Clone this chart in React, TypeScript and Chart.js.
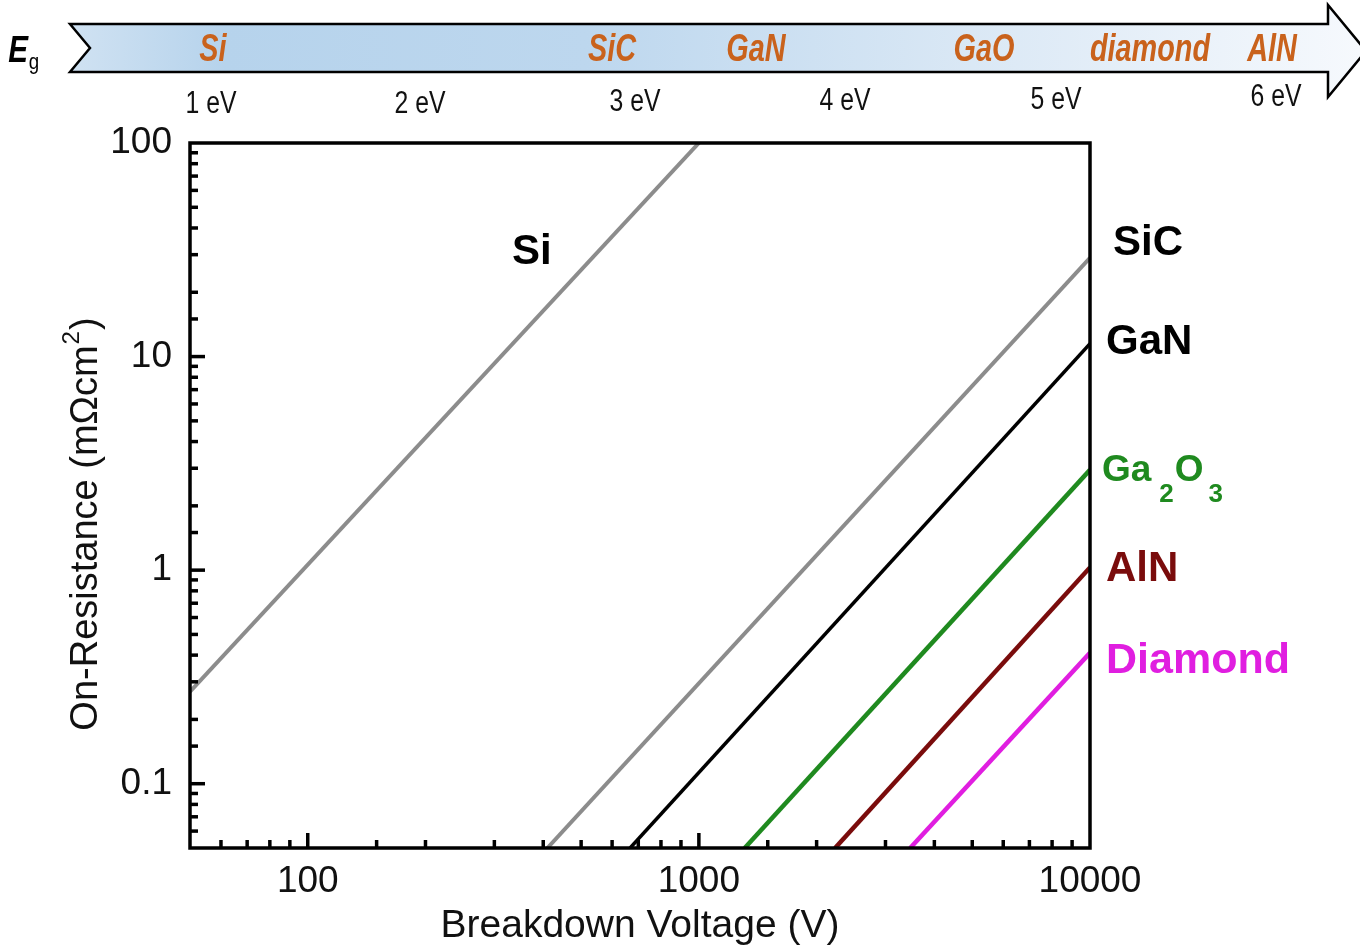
import React, { useEffect, useRef } from 'react';
import { Chart, registerables } from 'chart.js';

Chart.register(...registerables);

// ---------- data ----------
const X_MIN = 50;
const X_MAX = 10000;
const Y_MIN = 0.05;
const Y_MAX = 100;

const X_TICK_VALUES = [100, 1000, 10000];
const X_TICK_LABELS = ['100', '1000', '10000'];
const Y_TICK_VALUES = [0.1, 1, 10, 100];
const Y_TICK_LABELS = ['0.1', '1', '10', '100'];

const SI_V = [50, 1000];
const SI_R = [0.27, 100];
const SIC_V = [410, 10000];
const SIC_R = [0.05, 29];
const GAN_V = [667, 10000];
const GAN_R = [0.05, 11.5];
const GA2O3_V = [1310, 10000];
const GA2O3_R = [0.05, 2.95];
const ALN_V = [2230, 10000];
const ALN_R = [0.05, 1.03];
const DIAMOND_V = [3470, 10000];
const DIAMOND_R = [0.05, 0.41];

const EG_MATERIALS = ['Si', 'SiC', 'GaN', 'GaO', 'diamond', 'AlN'];
const EG_VALUES = ['1 eV', '2 eV', '3 eV', '4 eV', '5 eV', '6 eV'];

const X_TITLE = 'Breakdown Voltage (V)';
const Y_TITLE_MAIN = 'On-Resistance (m\u03A9cm';
const Y_TITLE_SUP = '2';
const Y_TITLE_END = ')';

// ---------- layout / style ----------
const MATERIAL_X = [213, 612, 756, 984, 1150, 1272];
const EV_X = [211, 420, 635, 845, 1056, 1276];
const EV_BASELINE = [113, 113, 111, 110, 109, 106];

const FONT = '"Liberation Sans", Arial, Helvetica, sans-serif';
const GRAY = '#8c8c8c';
const GREEN = '#1f8a1f';
const DARKRED = '#7a0c0c';
const MAGENTA = '#e01ee0';
const ORANGE = '#c9621c';

const pts = (v: number[], r: number[]) => v.map((x, i) => ({ x, y: r[i] }));

const isMajor = (v: number) => Math.abs(Math.log10(v) - Math.round(Math.log10(v))) < 1e-6;

function labelFor(value: number, vals: number[], labels: string[]) {
  for (let i = 0; i < vals.length; i++) {
    if (Math.abs(Math.log10(value) - Math.log10(vals[i])) < 1e-6) return labels[i];
  }
  return '';
}

function condensed(ctx: CanvasRenderingContext2D, text: string, x: number, y: number, font: string, color: string, sx: number) {
  ctx.save();
  ctx.translate(x, y);
  ctx.scale(sx, 1);
  ctx.font = font;
  ctx.fillStyle = color;
  ctx.textAlign = 'center';
  ctx.textBaseline = 'alphabetic';
  ctx.fillText(text, 0, 0);
  ctx.restore();
}

const headerPlugin = {
  id: 'header',
  afterDraw(chart: any) {
    const ctx: CanvasRenderingContext2D = chart.ctx;
    ctx.save();
    const grad = ctx.createLinearGradient(70, 0, 1360, 0);
    grad.addColorStop(0, '#d0e2f2');
    grad.addColorStop(0.12, '#b6d3ec');
    grad.addColorStop(0.4, '#bdd7ee');
    grad.addColorStop(0.7, '#dae8f5');
    grad.addColorStop(1, '#f6f9fd');
    ctx.beginPath();
    ctx.moveTo(70, 24);
    ctx.lineTo(1328, 24);
    ctx.lineTo(1328, 5);
    ctx.lineTo(1366, 51);
    ctx.lineTo(1328, 97);
    ctx.lineTo(1328, 72);
    ctx.lineTo(70, 72);
    ctx.lineTo(90, 48);
    ctx.closePath();
    ctx.fillStyle = grad;
    ctx.fill();
    ctx.lineWidth = 2.5;
    ctx.strokeStyle = '#000';
    ctx.lineJoin = 'miter';
    ctx.stroke();

    condensed(ctx, 'E', 18, 62, `italic bold 37px ${FONT}`, '#000', 0.8);
    condensed(ctx, 'g', 34, 69, `22px ${FONT}`, '#000', 0.85);

    EG_MATERIALS.forEach((m, i) => {
      condensed(ctx, m, MATERIAL_X[i], 61, `italic bold 39px ${FONT}`, ORANGE, 0.74);
    });
    EG_VALUES.forEach((t, i) => {
      condensed(ctx, t, EV_X[i], EV_BASELINE[i], `31px ${FONT}`, '#111', 0.8);
    });
    ctx.restore();
  },
};

const framePlugin = {
  id: 'frame',
  afterDatasetsDraw(chart: any) {
    const ctx: CanvasRenderingContext2D = chart.ctx;
    const a = chart.chartArea;
    const xs = chart.scales.x;
    const ys = chart.scales.y;
    ctx.save();
    ctx.strokeStyle = '#000';
    ctx.lineWidth = 3.5;
    ctx.lineCap = 'butt';
    xs.ticks.forEach((t: any) => {
      const px = xs.getPixelForValue(t.value);
      if (px <= a.left + 2 || px >= a.right - 2) return;
      const len = isMajor(t.value) ? 15 : 8;
      ctx.beginPath();
      ctx.moveTo(px, a.bottom);
      ctx.lineTo(px, a.bottom - len);
      ctx.stroke();
    });
    ys.ticks.forEach((t: any) => {
      const py = ys.getPixelForValue(t.value);
      if (py <= a.top + 2 || py >= a.bottom - 2) return;
      const len = isMajor(t.value) ? 15 : 8;
      ctx.beginPath();
      ctx.moveTo(a.left, py);
      ctx.lineTo(a.left + len, py);
      ctx.stroke();
    });
    ctx.lineWidth = 3.5;
    ctx.strokeRect(a.left, a.top, a.right - a.left, a.bottom - a.top);

    // y title
    ctx.save();
    ctx.translate(97, 524);
    ctx.rotate(-Math.PI / 2);
    ctx.fillStyle = '#111';
    ctx.textBaseline = 'alphabetic';
    ctx.textAlign = 'left';
    const mainFont = `38px ${FONT}`;
    const supFont = `24px ${FONT}`;
    ctx.font = mainFont;
    const w1 = ctx.measureText(Y_TITLE_MAIN).width;
    const w3 = ctx.measureText(Y_TITLE_END).width;
    ctx.font = supFont;
    const w2 = ctx.measureText(Y_TITLE_SUP).width;
    let x0 = -(w1 + w2 + w3 + 2) / 2;
    ctx.font = mainFont;
    ctx.fillText(Y_TITLE_MAIN, x0, 0);
    x0 += w1 + 1;
    ctx.font = supFont;
    ctx.fillText(Y_TITLE_SUP, x0, -18);
    x0 += w2 + 1;
    ctx.font = mainFont;
    ctx.fillText(Y_TITLE_END, x0, 0);
    ctx.restore();

    // line labels
    const big = `bold 42px ${FONT}`;
    const txt = (s: string, x: number, y: number, color: string, font = big) => {
      ctx.font = font;
      ctx.fillStyle = color;
      ctx.textAlign = 'left';
      ctx.textBaseline = 'alphabetic';
      ctx.fillText(s, x, y);
      return ctx.measureText(s).width;
    };
    const R = a.right;
    txt('Si', xs.getPixelForValue(370) - 18, ys.getPixelForValue(31) + 12, '#000');
    txt('SiC', R + 23, ys.getPixelForValue(SIC_R[1]) - 3, '#000');
    txt('GaN', R + 16, ys.getPixelForValue(GAN_R[1]) + 10, '#000');
    const gy = ys.getPixelForValue(GA2O3_R[1]) + 11;
    let gx = R + 12;
    const f1 = `bold 37px ${FONT}`;
    const f2 = `bold 26px ${FONT}`;
    gx += txt('Ga', gx, gy, GREEN, f1) + 8;
    gx += txt('2', gx, gy + 21, GREEN, f2) + 1;
    gx += txt('O', gx, gy, GREEN, f1) + 5;
    txt('3', gx, gy + 21, GREEN, f2);
    txt('AlN', R + 16, ys.getPixelForValue(ALN_R[1]) + 14, DARKRED);
    txt('Diamond', R + 16, ys.getPixelForValue(DIAMOND_R[1]) + 20, MAGENTA, `bold 43px ${FONT}`);
    ctx.restore();
  },
};

export default function App() {
  const ref = useRef<HTMLCanvasElement | null>(null);

  useEffect(() => {
    document.body.style.margin = '0';
    const canvas = ref.current;
    if (!canvas) return;
    const mk = (v: number[], r: number[], color: string, width: number) => ({
      data: pts(v, r),
      borderColor: color,
      backgroundColor: color,
      borderWidth: width,
      pointRadius: 0,
      tension: 0,
      fill: false,
    });
    const chart = new Chart(canvas, {
      type: 'line',
      data: {
        datasets: [
          { label: 'Si', ...mk(SI_V, SI_R, GRAY, 4) },
          { label: 'SiC', ...mk(SIC_V, SIC_R, GRAY, 4) },
          { label: 'GaN', ...mk(GAN_V, GAN_R, '#000', 3.5) },
          { label: 'Ga2O3', ...mk(GA2O3_V, GA2O3_R, GREEN, 4.5) },
          { label: 'AlN', ...mk(ALN_V, ALN_R, DARKRED, 4.5) },
          { label: 'Diamond', ...mk(DIAMOND_V, DIAMOND_R, MAGENTA, 4.5) },
        ],
      },
      options: {
        responsive: false,
        animation: false,
        devicePixelRatio: 1,
        layout: { padding: { top: 143, right: 270, left: 0, bottom: 0 } },
        plugins: { legend: { display: false }, tooltip: { enabled: false } },
        scales: {
          x: {
            type: 'logarithmic',
            min: X_MIN,
            max: X_MAX,
            grid: { display: false },
            border: { display: false },
            ticks: {
              autoSkip: false,
              maxRotation: 0,
              padding: 4,
              color: '#111',
              font: { family: FONT, size: 37 },
              callback: (v: any) => labelFor(Number(v), X_TICK_VALUES, X_TICK_LABELS),
            },
            title: {
              display: true,
              text: X_TITLE,
              color: '#111',
              font: { family: FONT, size: 39 },
              padding: { top: 0, bottom: -4 },
            },
            afterFit: (s: any) => { s.height = 98; },
          },
          y: {
            type: 'logarithmic',
            min: Y_MIN,
            max: Y_MAX,
            grid: { display: false },
            border: { display: false },
            ticks: {
              autoSkip: false,
              padding: 10,
              color: '#111',
              font: { family: FONT, size: 37 },
              callback: (v: any) => labelFor(Number(v), Y_TICK_VALUES, Y_TICK_LABELS),
            },
            afterFit: (s: any) => { s.width = 190; },
          },
        },
      },
      plugins: [framePlugin, headerPlugin],
    } as any);
    return () => chart.destroy();
  }, []);

  return (
    <div style={{ position: 'absolute', left: 0, top: 0, width: 1360, height: 946, background: '#fff' }}>
      <canvas ref={ref} width={1360} height={946} style={{ display: 'block' }} />
    </div>
  );
}
